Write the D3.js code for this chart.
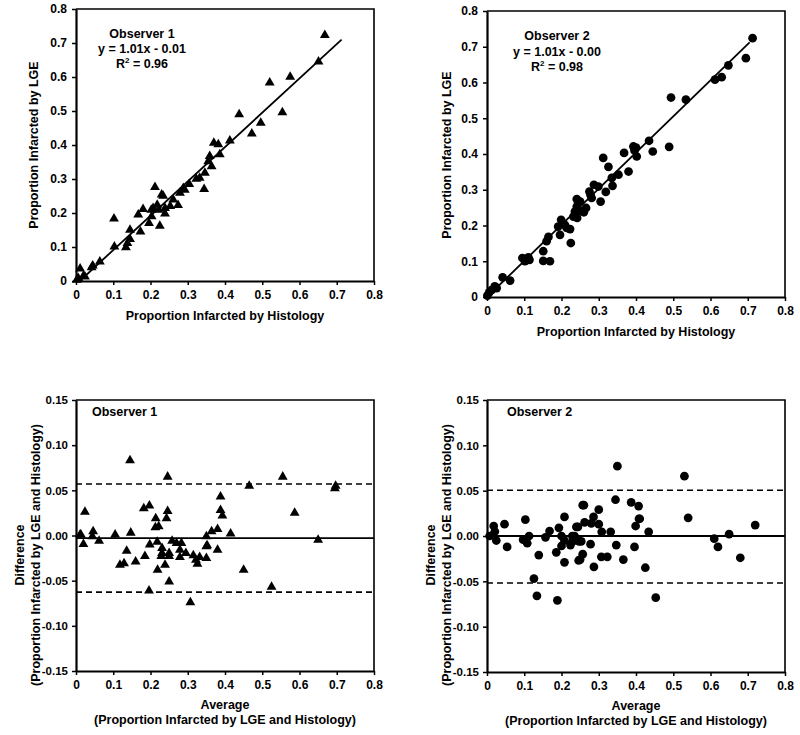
<!DOCTYPE html>
<html><head><meta charset="utf-8">
<script src="https://cdn.jsdelivr.net/npm/d3@7"></script>
<style>
body{margin:0;background:#fff}
svg{display:block}
text{font-family:"Liberation Sans",Arial,sans-serif;font-weight:bold;fill:#000}
</style></head><body>
<svg id="c" width="800" height="735"></svg>
<script>
// ---------- data ----------
const scatterTicks = [0,0.1,0.2,0.3,0.4,0.5,0.6,0.7,0.8];
const scatterTickLabels = ["0","0.1","0.2","0.3","0.4","0.5","0.6","0.7","0.8"];
const baYTicks = [-0.15,-0.10,-0.05,0,0.05,0.10,0.15];
const baYTickLabels = ["-0.15","-0.10","-0.05","0.00","0.05","0.10","0.15"];

// Observer 1: proportion by histology / by LGE
const obs1Hist = [0.668,0.651,0.575,0.52,0.554,0.496,0.472,0.438,0.413,0.37,0.382,0.386,0.359,0.355,0.364,0.346,0.332,0.323,0.344,0.304,0.288,0.292,0.279,0.212,0.23,0.234,0.261,0.274,0.218,0.207,0.202,0.222,0.18,0.167,0.239,0.253,0.239,0.203,0.196,0.225,0.173,0.145,0.145,0.138,0.134,0.102,0.103,0.064,0.045,0.042,0.011,0.02,0.024,0.006,0.002];
const obs1LGE  = [0.723,0.645,0.60,0.583,0.496,0.465,0.433,0.49,0.413,0.406,0.402,0.372,0.367,0.352,0.337,0.318,0.303,0.30,0.27,0.285,0.273,0.268,0.259,0.276,0.254,0.25,0.239,0.223,0.224,0.214,0.209,0.209,0.211,0.195,0.214,0.22,0.198,0.19,0.17,0.162,0.145,0.15,0.123,0.111,0.099,0.183,0.101,0.057,0.045,0.04,0.036,0.015,0.013,0.008,0.003];
const obs1Fit = [1.01, -0.01];   // slope, intercept
const obs1FitRange = [0.01, 0.713];

// Observer 2
const obs2Hist = [0.713,0.695,0.648,0.63,0.612,0.494,0.534,0.435,0.489,0.445,0.393,0.40,0.396,0.402,0.368,0.312,0.326,0.38,0.353,0.335,0.337,0.319,0.305,0.287,0.299,0.275,0.281,0.278,0.241,0.25,0.266,0.26,0.241,0.236,0.25,0.232,0.242,0.199,0.191,0.209,0.214,0.223,0.196,0.165,0.16,0.225,0.151,0.151,0.169,0.095,0.102,0.114,0.111,0.042,0.062,0.021,0.013,0.006,0.026,0.001];
const obs2LGE  = [0.724,0.668,0.648,0.615,0.608,0.558,0.552,0.437,0.42,0.407,0.421,0.418,0.41,0.393,0.403,0.389,0.364,0.351,0.342,0.333,0.311,0.294,0.267,0.314,0.309,0.295,0.277,0.285,0.274,0.267,0.249,0.237,0.253,0.239,0.24,0.225,0.221,0.216,0.197,0.202,0.193,0.19,0.174,0.168,0.156,0.151,0.128,0.101,0.10,0.109,0.10,0.104,0.111,0.055,0.046,0.03,0.02,0.013,0.025,0.004];
const obs2Fit = [1.01, 0.00];
const obs2FitRange = [0.0, 0.705];

// Bland-Altman Observer 1: average / difference
const ba1Avg  = [0.145,0.246,0.024,0.182,0.197,0.214,0.246,0.243,0.213,0.222,0.388,0.388,0.393,0.38,0.364,0.415,0.35,0.011,0.013,0.02,0.046,0.044,0.062,0.105,0.147,0.198,0.218,0.258,0.27,0.283,0.136,0.185,0.231,0.231,0.25,0.25,0.279,0.295,0.315,0.332,0.35,0.352,0.38,0.35,0.118,0.129,0.16,0.229,0.239,0.219,0.25,0.196,0.307,0.279,0.322,0.326,0.45,0.465,0.525,0.555,0.587,0.65,0.695,0.697];
const ba1Diff = [0.083,0.065,0.026,0.030,0.033,0.019,0.027,0.019,0.009,0.010,0.043,0.028,0.022,0.007,0.0045,0.002,-0.001,0.001,0.001,-0.0095,0.0045,-0.001,-0.006,0.001,0.003,-0.010,-0.007,-0.006,-0.0085,-0.0085,-0.017,-0.023,-0.014,-0.0195,-0.0195,-0.023,-0.016,-0.0195,-0.022,-0.024,-0.012,-0.011,-0.016,-0.025,-0.0325,-0.031,-0.029,-0.023,-0.0325,-0.038,-0.051,-0.061,-0.074,-0.024,-0.027,-0.0315,-0.038,0.055,-0.057,0.065,0.025,-0.005,0.052,0.055];
const ba1Lines = [0.057, -0.003, -0.0627];   // upper limit, mean, lower limit

// Bland-Altman Observer 2
const ba2Avg  = [0.35,0.345,0.387,0.407,0.408,0.41,0.399,0.257,0.26,0.30,0.286,0.28,0.30,0.262,0.244,0.24,0.208,0.193,0.168,0.103,0.047,0.018,0.021,0.007,0.025,0.054,0.097,0.113,0.108,0.157,0.20,0.208,0.20,0.229,0.235,0.224,0.23,0.247,0.253,0.278,0.308,0.332,0.347,0.434,0.396,0.139,0.186,0.257,0.307,0.323,0.366,0.25,0.208,0.246,0.287,0.425,0.126,0.134,0.189,0.453,0.53,0.54,0.61,0.62,0.65,0.68,0.72];
const ba2Diff = [0.077,0.040,0.037,0.033,0.019,0.019,0.011,0.034,0.034,0.029,0.021,0.014,0.013,0.015,0.010,0.010,0.021,0.009,0.0055,0.018,0.013,0.011,0.005,0,-0.005,-0.012,-0.004,0,-0.008,-0.0015,0,-0.005,-0.011,0,0,-0.010,-0.006,-0.006,-0.006,-0.009,0.0046,0.0046,-0.010,0.0046,-0.012,-0.021,-0.018,-0.020,-0.023,-0.023,-0.026,-0.026,-0.029,-0.027,-0.034,-0.035,-0.047,-0.066,-0.071,-0.068,0.066,0.020,-0.003,-0.012,0.002,-0.024,0.012];
const ba2Lines = [0.0504, 0.0, -0.0518];

// ---------- drawing ----------
const svg = d3.select("#c");

function panel(o){
  const x = d3.scaleLinear().domain([0,0.8]).range([o.left,o.right]);
  const y = d3.scaleLinear().domain(o.yDomain).range([o.bottom,o.top]);
  const g = svg.append("g");

  g.append("path")
    .attr("d",`M${o.left},${o.top}H${o.right}V${o.bottom}`)
    .attr("fill","none").attr("stroke","#000").attr("stroke-width",1.6);

  if(o.lines){
    o.lines.forEach((v,i)=>{
      g.append("line").attr("x1",o.left).attr("x2",o.right)
        .attr("y1",y(v)).attr("y2",y(v))
        .attr("stroke","#000").attr("stroke-width",i===1?1.8:1.6)
        .attr("stroke-dasharray", i===1 ? null : "6,4");
    });
  }
  if(o.fit){
    const [a,b]=o.fit, [r0,r1]=o.fitRange;
    g.append("line")
      .attr("x1",x(r0)).attr("y1",y(a*r0+b))
      .attr("x2",x(r1)).attr("y2",y(a*r1+b))
      .attr("stroke","#000").attr("stroke-width",1.8);
  }

  const sym = d3.symbol().type(o.shape==="tri"?d3.symbolTriangle:d3.symbolCircle).size(o.shape==="tri"?42:60);
  g.selectAll(".pt").data(o.xs.map((v,i)=>[v,o.ys[i]])).join("path")
    .attr("transform",d=>`translate(${x(d[0])},${y(d[1])})`)
    .attr("d",sym).attr("fill","#000");

  const ax = g.append("g").attr("transform",`translate(0,${o.bottom})`)
    .call(d3.axisBottom(x).tickValues(scatterTicks).tickFormat((d,i)=>scatterTickLabels[i]).tickSize(4).tickSizeOuter(0).tickPadding(5));
  const ay = g.append("g").attr("transform",`translate(${o.left},0)`)
    .call(d3.axisLeft(y).tickValues(o.yTicks).tickFormat((d,i)=>o.yLabels[i]).tickSize(4).tickSizeOuter(0).tickPadding(o.yPad||5));
  [ax,ay].forEach(a=>{
    a.select(".domain").attr("stroke-width",2.2);
    a.selectAll(".tick line").attr("stroke-width",1.5);
    a.selectAll("text").attr("font-size",12).attr("font-family","Liberation Sans, Arial, sans-serif").attr("font-weight","bold");
  });
  if(o.yFont) ay.selectAll("text").attr("font-size",o.yFont);

  o.notes.forEach(n=>{
    const t = g.append("text").attr("x",n.x).attr("y",n.y).attr("font-size",12.5)
      .attr("text-anchor",n.anchor||"middle");
    if(n.sup){
      t.append("tspan").text(n.text[0]);
      t.append("tspan").attr("font-size",8).attr("dy",-5).text(n.sup);
      t.append("tspan").attr("dy",5).text("\u00A0"+n.text[1]);
    } else t.text(n.text);
  });
  o.xTitle.forEach(t=>{
    g.append("text").attr("x",t.x).attr("y",t.y).attr("font-size",12.5).attr("text-anchor","middle").text(t.text);
  });
  o.yTitle.forEach(t=>{
    g.append("text").attr("transform",`translate(${t.x},${t.y}) rotate(-90)`)
      .attr("font-size",12.5).attr("text-anchor","middle").text(t.text);
  });
}

panel({left:76,right:374,top:9,bottom:281,yDomain:[0,0.8],yTicks:scatterTicks,yLabels:scatterTickLabels,
  xs:obs1Hist,ys:obs1LGE,shape:"tri",fit:obs1Fit,fitRange:obs1FitRange,
  notes:[{x:142,y:38,text:"Observer 1"},{x:142,y:53,text:"y = 1.01x - 0.01"},{x:142,y:68,text:["R","= 0.96"],sup:"2"}],
  xTitle:[{x:225,y:320,text:"Proportion Infarcted by Histology"}],
  yTitle:[{x:38,y:145,text:"Proportion Infarcted by LGE"}]});

panel({left:487,right:785,top:11,bottom:297,yDomain:[0,0.8],yTicks:scatterTicks,yLabels:scatterTickLabels,
  xs:obs2Hist,ys:obs2LGE,shape:"circ",fit:obs2Fit,fitRange:obs2FitRange,
  notes:[{x:557,y:40,text:"Observer 2"},{x:557,y:56,text:"y = 1.01x - 0.00"},{x:557,y:71,text:["R","= 0.98"],sup:"2"}],
  xTitle:[{x:636,y:336,text:"Proportion Infarcted by Histology"}],
  yTitle:[{x:451,y:155,text:"Proportion  Infarcted by LGE"}]});

panel({left:76,right:374,top:400,bottom:671,yDomain:[-0.15,0.15],yTicks:baYTicks,yLabels:baYTickLabels,yPad:4,yFont:11.5,
  xs:ba1Avg,ys:ba1Diff,shape:"tri",lines:ba1Lines,
  notes:[{x:92,y:416,text:"Observer 1",anchor:"start"}],
  xTitle:[{x:225,y:709,text:"Average"},{x:225,y:724,text:"(Proportion Infarcted by LGE and Histology)"}],
  yTitle:[{x:24,y:555,text:"Difference"},{x:40,y:555,text:"(Proportion Infarcted by LGE and Histology)"}]});

panel({left:487,right:785,top:400,bottom:672,yDomain:[-0.15,0.15],yTicks:baYTicks,yLabels:baYTickLabels,yPad:4,yFont:11.5,
  xs:ba2Avg,ys:ba2Diff,shape:"circ",lines:ba2Lines,
  notes:[{x:507,y:416,text:"Observer 2",anchor:"start"}],
  xTitle:[{x:636,y:710,text:"Average"},{x:636,y:725,text:"(Proportion Infarcted by LGE and Histology)"}],
  yTitle:[{x:435,y:555,text:"Difference"},{x:451,y:555,text:"(Proportion Infarcted by LGE and Histology)"}]});
</script></body></html>
